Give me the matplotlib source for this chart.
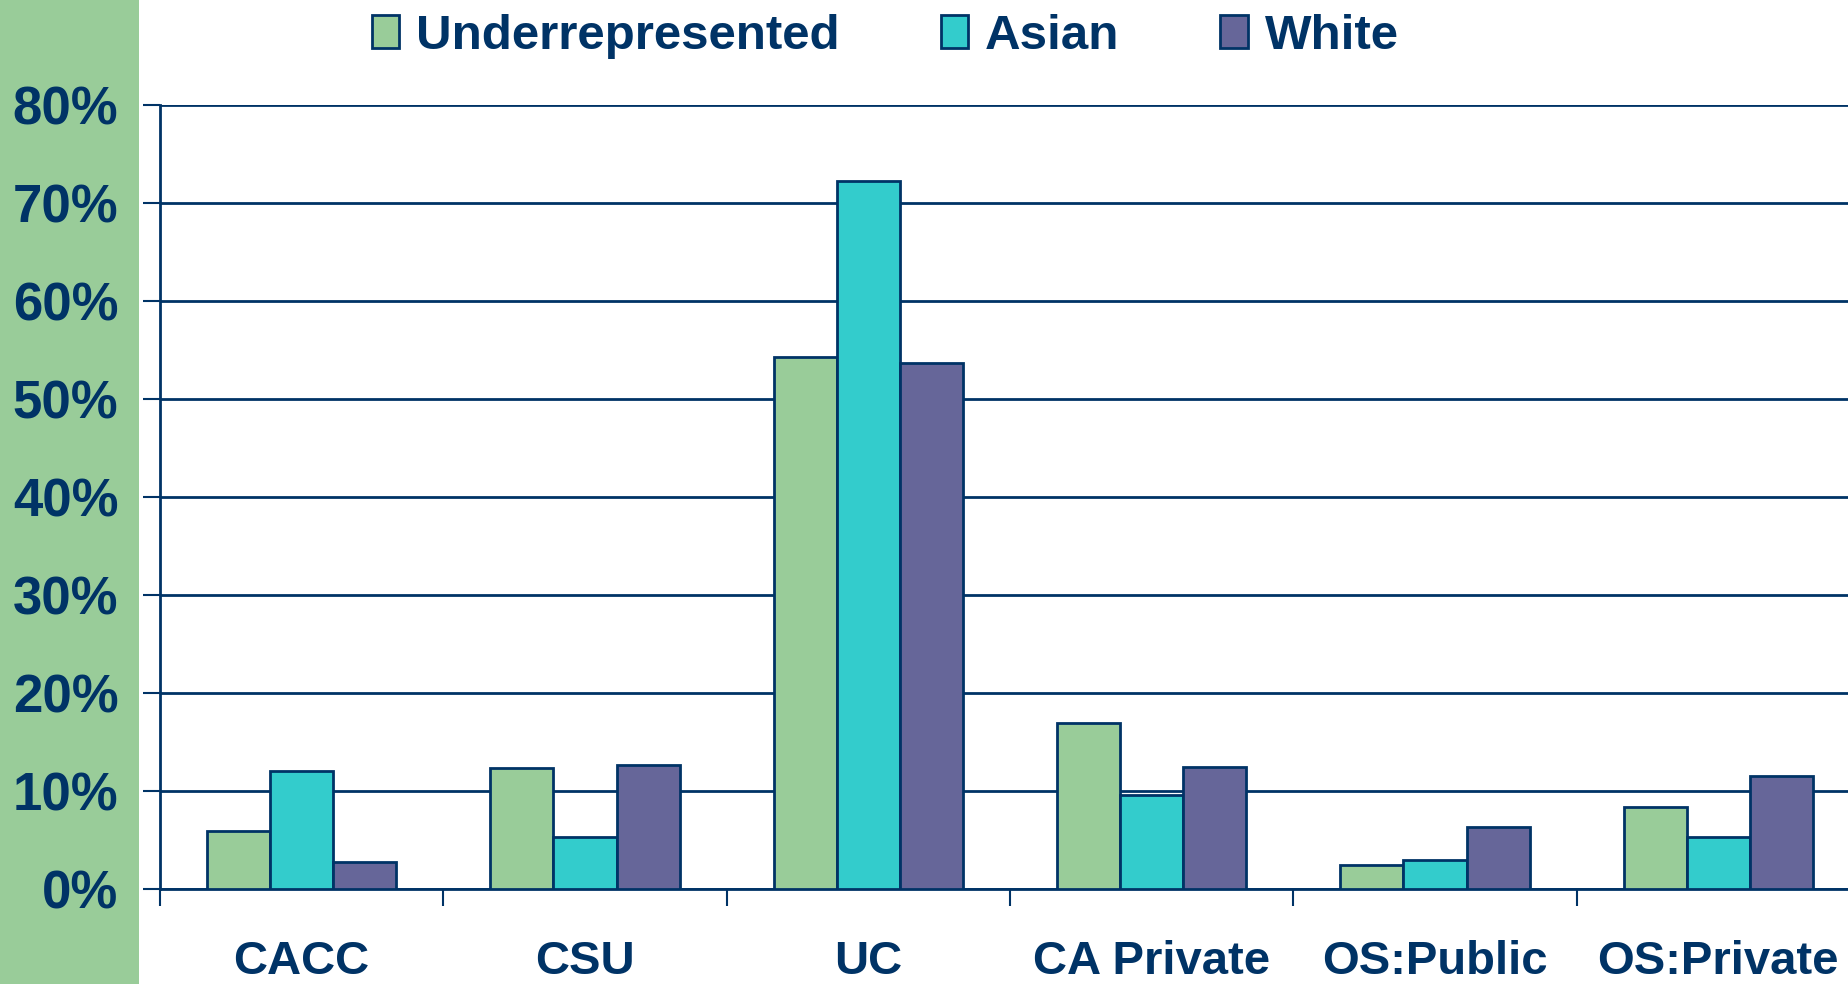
import matplotlib.pyplot as plt
import matplotlib.patches as mpatches
import numpy as np

categories = ["CACC", "CSU", "UC", "CA Private", "OS:Public", "OS:Private"]
underrepresented = [5.9, 12.3, 54.3, 16.9, 2.5, 8.4]
asian = [12.0, 5.3, 72.2, 9.6, 3.0, 5.3]
white = [2.8, 12.7, 53.7, 12.5, 6.3, 11.5]
series_names = ["Underrepresented", "Asian", "White"]
yticks = [0, 10, 20, 30, 40, 50, 60, 70, 80]

navy = "#003366"
colors = ["#99CC99", "#33CCCC", "#666699"]

plt.rcParams['font.family'] = ['Liberation Sans', 'DejaVu Sans']
plt.rcParams['font.weight'] = 'bold'

fig = plt.figure(figsize=(18.48, 9.84), dpi=100)
# green strip on the left, behind everything
fig.patches.append(mpatches.Rectangle((0, 0), 139 / 1848, 1, transform=fig.transFigure,
                                      facecolor="#99CC99", edgecolor="none", zorder=-10))

ax = fig.add_axes([160 / 1848, 95 / 984, 1700 / 1848, 784 / 984])
ax.set_facecolor("none")

x = np.arange(len(categories))
w = 0.223
for i, (vals, c, name) in enumerate(zip([underrepresented, asian, white], colors, series_names)):
    ax.bar(x + (i - 1) * w, vals, w, color=c, edgecolor=navy, linewidth=2, label=name, zorder=3)

ax.set_xlim(-0.5, len(categories) - 0.5)
ax.set_ylim(0, 80)
ax.set_yticks(yticks)
ax.set_yticklabels([f"{v}%" for v in yticks])
ax.yaxis.grid(True, color=navy, linewidth=2)
ax.set_axisbelow(True)

ax.set_xticks(np.arange(-0.5, len(categories), 1))
ax.set_xticklabels([])
ax.set_xticks(x, minor=True)
ax.set_xticklabels(categories, minor=True)

for s in ["top", "right"]:
    ax.spines[s].set_visible(False)
for s in ["left", "bottom"]:
    ax.spines[s].set_color(navy)
    ax.spines[s].set_linewidth(2)

ax.tick_params(axis='y', direction='out', length=12, width=1.5, color=navy,
               labelsize=38, labelcolor=navy, pad=18)
ax.tick_params(axis='x', which='major', direction='out', length=12, width=1.5, color=navy)
ax.tick_params(axis='x', which='minor', length=0, labelsize=34, labelcolor=navy, pad=37)

handles = [mpatches.Patch(facecolor=c, edgecolor=navy, linewidth=2, label=n)
           for c, n in zip(colors, series_names)]
fig.legend(handles=handles, loc='center', bbox_to_anchor=(0.479, 0.963), ncol=3,
           frameon=False, fontsize=35.5, labelcolor=navy, handlelength=0.55,
           handleheight=0.65, handletextpad=0.35, columnspacing=2.05)

plt.savefig("out.png", dpi=100)
